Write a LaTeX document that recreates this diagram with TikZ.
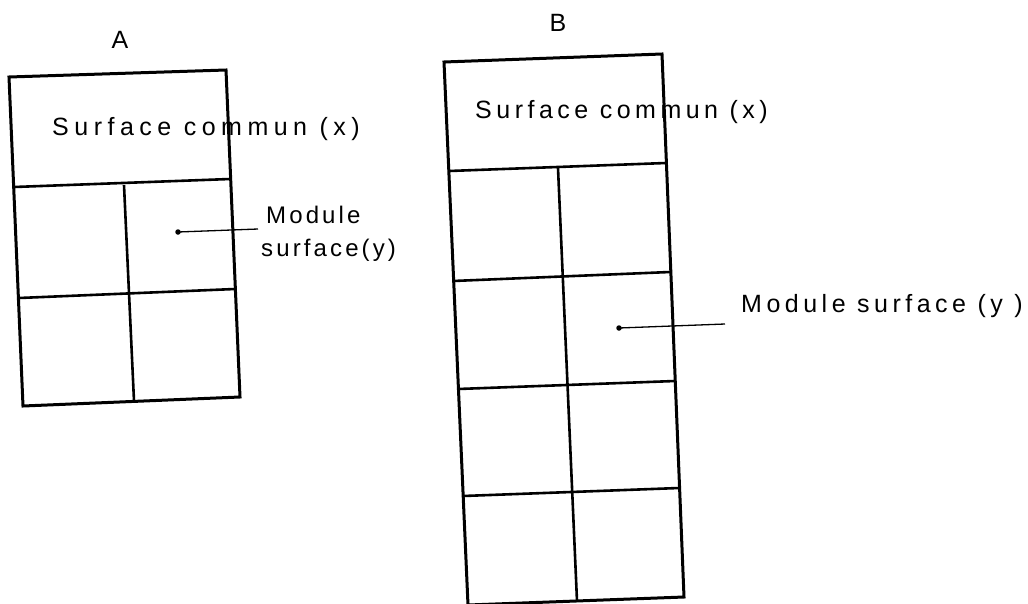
\documentclass[tikz,border=0pt]{standalone}
\usepackage{fontspec}
\setmainfont{Liberation Sans}
\newfontfamily\lblfont{Liberation Sans}[LetterSpace=18]
\newfontfamily\lblwidefont{Liberation Sans}[LetterSpace=22]
\newfontfamily\lblnarrowfont{Liberation Sans}[LetterSpace=13]
\begin{document}
\begin{tikzpicture}[x=1pt,y=-1pt,
  frame/.style={line width=3pt,line join=miter,line cap=rect},
  grid/.style={line width=2.6pt},
  lead/.style={line width=1.3pt},
  lbl/.style={inner sep=0pt,font=\lblfont\fontsize{25}{28}\selectfont},
  lblwide/.style={inner sep=0pt,font=\lblwidefont\fontsize{25}{28}\selectfont},
  lblnarrow/.style={inner sep=0pt,font=\lblnarrowfont\fontsize{24}{28}\selectfont},
  dotmark/.style={circle,fill=black,inner sep=0pt,minimum size=5.5pt}]
\useasboundingbox (0,0) rectangle (1028,603);
\begin{scope}
\clip (0,0) rectangle (1028,603);
% ---- Box A ----
\coordinate (aTL) at (9,77);
\coordinate (aTR) at (226,70);
\coordinate (aBR) at (240,397);
\coordinate (aBL) at (23,406);
\draw[frame] (aTL) -- (aTR) -- (aBR) -- (aBL) -- cycle;
\coordinate (a1l) at (14,187);  \coordinate (a1r) at (230,179);
\coordinate (a2l) at (19,298);  \coordinate (a2r) at (235,289);
\coordinate (amt) at (124,185); \coordinate (amb) at (134,401);
\draw[grid] (a1l) -- (a1r);
\draw[grid] (a2l) -- (a2r);
\draw[grid] (amt) -- (amb);
\node[lbl] (labA) at (120,40) {A};
\node[lblwide,anchor=west] (surfA) at (52,129) {Surface commun (x)};
\node[dotmark] (dotA) at (178,232) {};
\coordinate (endA) at (258,229);
\draw[lead] (dotA.center) -- (endA);
\node[lblnarrow,anchor=west] (modA1) at (266,215) {Module};
\node[lblnarrow,anchor=west] (modA2) at (261,250) {surface(y)};
% ---- Box B ----
\coordinate (bTL) at (444,62);
\coordinate (bTR) at (662,54);
\coordinate (bBR) at (684,597);
\coordinate (bBL) at (468,605);
\draw[frame] (bTL) -- (bTR) -- (bBR) -- (bBL) -- cycle;
\coordinate (b1l) at (449,171); \coordinate (b1r) at (666,163);
\coordinate (b2l) at (453,281); \coordinate (b2r) at (670,272);
\coordinate (b3l) at (458,389); \coordinate (b3r) at (675,381);
\coordinate (b4l) at (463,496); \coordinate (b4r) at (679,488);
\coordinate (bmt) at (558,168); \coordinate (bmb) at (577,601);
\draw[grid] (b1l) -- (b1r);
\draw[grid] (b2l) -- (b2r);
\draw[grid] (b3l) -- (b3r);
\draw[grid] (b4l) -- (b4r);
\draw[grid] (bmt) -- (bmb);
\node[lbl] (labB) at (558,23) {B};
\node[lbl,anchor=west] (surfB) at (475,112) {Surface commun (x)};
\node[dotmark] (dotB) at (619,328) {};
\coordinate (endB) at (725,324);
\draw[lead] (dotB.center) -- (endB);
\node[lbl,anchor=west] (modB) at (741,306) {Module surface (y )};
\end{scope}
\end{tikzpicture}
\end{document}
